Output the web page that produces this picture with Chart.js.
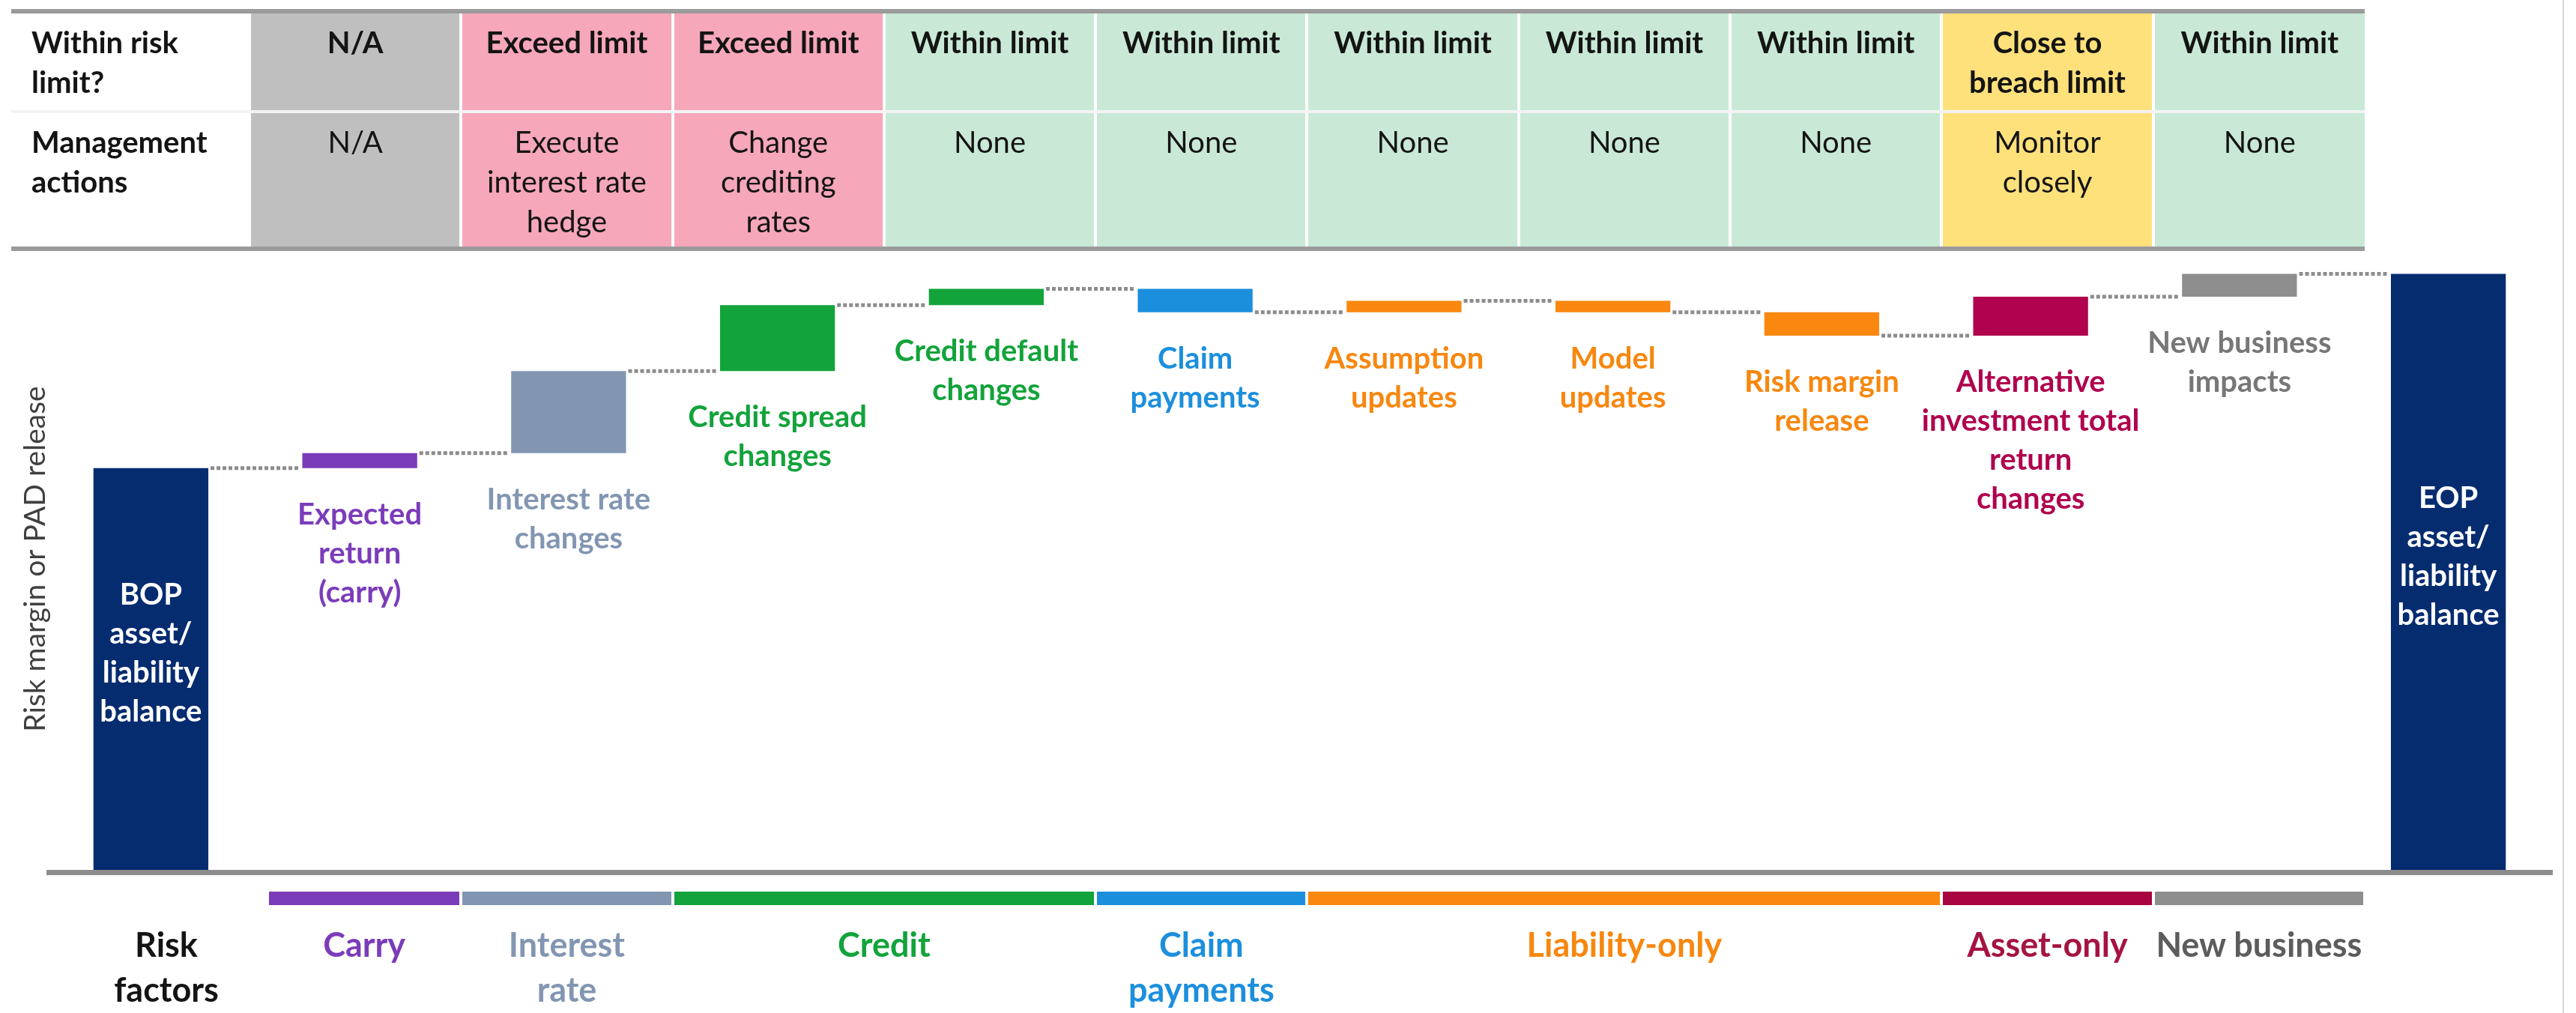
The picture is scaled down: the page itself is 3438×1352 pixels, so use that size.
<!DOCTYPE html>
<html>
<head>
<meta charset="utf-8">
<script src="https://cdn.jsdelivr.net/npm/chart.js@4.4.1/dist/chart.umd.min.js"></script>
<style>
body { margin:0; background:#fff; }
#wrap { position:relative; width:3438px; height:1352px; overflow:hidden; }
#edge { position:absolute; left:3420px; top:0; width:2px; height:1352px; background:#d6d6d6; }
#mycanvas { position:absolute; left:0; top:0; }
table.grid { position:absolute; left:15px; width:3141px; border-collapse:collapse; table-layout:fixed;
	font-family:Lato, "Open Sans", sans-serif; color:#141414; }
#limits { top:12px; font-size:40px; line-height:53px; }
#limits td { vertical-align:top; text-align:center; padding:12px 2px 0 2px; border-left:4px solid #fff; white-space:pre-line; }
#limits tr.r1 td { height:117px; border-top:6px solid #9b9b9b; border-bottom:4px solid #f3f3f3; font-weight:700; }
#limits tr.r2 td { height:166px; border-bottom:6px solid #9b9b9b; }
#limits td.head { text-align:left; padding-left:27px; font-weight:700; background:#fff; border-left:none; }
#factors { top:1190px; font-size:45px; line-height:60px; font-weight:700; }
#factors td { vertical-align:top; text-align:center; padding:0 2px; white-space:pre; }
#factors td.head { padding-left:98px; padding-top:40px; }
#factors td.first { padding-left:26px; }
#factors .bar { height:18px; margin-bottom:22px; }
</style>
</head>
<body>
<div id="wrap">
<canvas id="mycanvas" width="3438" height="1352"></canvas>
<table id="limits" class="grid"><colgroup><col style="width:318px"></colgroup><tbody></tbody></table>
<table id="factors" class="grid"><colgroup><col style="width:318px"></colgroup><tbody></tbody></table>
<div id="edge"></div>
</div>
<script>
// table on top
var rowHeads = ['Within risk\nlimit?', 'Management\nactions'];
var limitStatus = ['N/A', 'Exceed limit', 'Exceed limit', 'Within limit', 'Within limit', 'Within limit',
	'Within limit', 'Within limit', 'Close to\nbreach limit', 'Within limit'];
var actions = ['N/A', 'Execute\ninterest rate\nhedge', 'Change\ncrediting\nrates', 'None', 'None', 'None',
	'None', 'None', 'Monitor\nclosely', 'None'];
var statusColors = {'N/A': '#bfbfbf', 'Exceed limit': '#f6a7b9', 'Within limit': '#c9e9d6', 'Close to\nbreach limit': '#ffe17c'};

// waterfall
var categories = ['BOP asset/liability balance', 'Expected return (carry)', 'Interest rate changes',
	'Credit spread changes', 'Credit default changes', 'Claim payments', 'Assumption updates',
	'Model updates', 'Risk margin release', 'Alternative investment total return changes',
	'New business impacts', 'EOP asset/liability balance'];
// running balance after each step (BOP first, last = EOP)
var runningBalance = [67.4, 69.9, 83.6, 94.6, 97.3, 93.4, 95.3, 93.4, 89.5, 96.0, 99.8];
var labelLines = [['BOP', 'asset/', 'liability', 'balance'], ['Expected', 'return', '(carry)'],
	['Interest rate', 'changes'], ['Credit spread', 'changes'], ['Credit default', 'changes'],
	['Claim', 'payments'], ['Assumption', 'updates'], ['Model', 'updates'], ['Risk margin', 'release'],
	['Alternative', 'investment total', 'return', 'changes'], ['New business', 'impacts'],
	['EOP', 'asset/', 'liability', 'balance']];
var barColors = ['#062c70', '#7a3cb8', '#8296b2', '#12a43b', '#12a43b', '#1c8fdc', '#fa870f',
	'#fa870f', '#fa870f', '#b0024e', '#8e8e8e', '#062c70'];
var textColors = ['#ffffff', '#7b3cba', '#8296b2', '#13a33b', '#13a33b', '#1c8fdc', '#f7870f',
	'#f7870f', '#f7870f', '#b0024e', '#777777', '#ffffff'];

// risk factor groups, spans counted in table columns
var factorNames = ['Carry', 'Interest\nrate', 'Credit', 'Claim\npayments', 'Liability-only', 'Asset-only', 'New business'];
var factorSpan = [1, 1, 2, 1, 3, 1, 1];
var factorColors = ['#7a3cb8', '#8296b2', '#12a43b', '#1c8fdc', '#fa870f', '#a8043f', '#8e8e8e'];
var factorTextColors = ['#7b3cba', '#8296b2', '#13a33b', '#1c8fdc', '#f7870f', '#a51440', '#5c5c5c'];

function addCols(sel) {
	var cols = document.querySelector(sel + ' colgroup');
	for (var c = 0; c < limitStatus.length; c++) cols.appendChild(document.createElement('col'));
}
addCols('#limits');
addCols('#factors');

var tbody = document.querySelector('#limits tbody');
[limitStatus, actions].forEach(function(row, r) {
	var tr = document.createElement('tr');
	tr.className = r == 0 ? 'r1' : 'r2';
	var th = document.createElement('td');
	th.className = 'head';
	th.textContent = rowHeads[r];
	tr.appendChild(th);
	for (var i = 0; i < row.length; i++) {
		var td = document.createElement('td');
		td.textContent = row[i];
		td.style.background = statusColors[limitStatus[i]];
		tr.appendChild(td);
	}
	tbody.appendChild(tr);
});

var ftr = document.createElement('tr');
var fh = document.createElement('td');
fh.className = 'head';
fh.textContent = 'Risk\nfactors';
ftr.appendChild(fh);
for (var g = 0; g < factorNames.length; g++) {
	var td = document.createElement('td');
	td.colSpan = factorSpan[g];
	if (g == 0) td.className = 'first';
	var bar = document.createElement('div');
	bar.className = 'bar';
	bar.style.background = factorColors[g];
	var txt = document.createElement('div');
	txt.textContent = factorNames[g];
	txt.style.color = factorTextColors[g];
	td.appendChild(bar);
	td.appendChild(txt);
	ftr.appendChild(td);
}
document.querySelector('#factors tbody').appendChild(ftr);

var bars = [];
for (var i = 0; i < categories.length; i++) {
	if (i == 0) bars.push([0, runningBalance[0]]);
	else if (i == categories.length - 1) bars.push([0, runningBalance[runningBalance.length - 1]]);
	else bars.push([runningBalance[i - 1], runningBalance[i]]);
}

var extras = {
	id: 'extras',
	afterDatasetsDraw: function(chart) {
		var ctx = chart.ctx, area = chart.chartArea;
		var y = chart.scales.y;
		var meta = chart.getDatasetMeta(0).data;
		ctx.save();

		// baseline
		ctx.fillStyle = '#8c8c8c';
		ctx.fillRect(area.left, area.bottom - 3, area.right - area.left, 7);

		// dotted connectors
		ctx.strokeStyle = '#8c8c8c';
		ctx.lineWidth = 5;
		ctx.setLineDash([5, 3]);
		for (var i = 0; i < runningBalance.length; i++) {
			var yy = y.getPixelForValue(runningBalance[i]);
			ctx.beginPath();
			ctx.moveTo(meta[i].x + meta[i].width / 2 + 3, yy);
			ctx.lineTo(meta[i + 1].x - meta[i + 1].width / 2 - 3, yy);
			ctx.stroke();
		}
		ctx.setLineDash([]);

		// step labels
		ctx.textAlign = 'center';
		ctx.textBaseline = 'middle';
		ctx.font = 'bold 40px Lato';
		for (var i = 0; i < labelLines.length; i++) {
			var lines = labelLines[i];
			var top;
			if (i == 0 || i == labelLines.length - 1) {
				var mid = (y.getPixelForValue(bars[i][1]) + area.bottom) / 2 - 22;
				top = mid - (lines.length - 1) * 52 / 2;
			} else {
				top = y.getPixelForValue(Math.min(bars[i][0], bars[i][1])) + 62;
			}
			ctx.fillStyle = textColors[i];
			for (var k = 0; k < lines.length; k++) {
				ctx.fillText(lines[k], meta[i].x, top + k * 52);
			}
		}

		// axis title
		ctx.translate(47, 746);
		ctx.rotate(-Math.PI / 2);
		ctx.font = '39px Lato';
		ctx.fillStyle = '#404040';
		ctx.fillText('Risk margin or PAD release', 0, 0);
		ctx.restore();
	}
};

var chart = new Chart(document.getElementById('mycanvas'), {
	type: 'bar',
	data: {
		labels: categories,
		datasets: [{
			data: bars,
			backgroundColor: barColors,
			borderWidth: 0,
			barPercentage: 0.55,
			categoryPercentage: 1
		}]
	},
	options: {
		responsive: false,
		animation: false,
		devicePixelRatio: 1,
		layout: { padding: { left: 62, right: 31, top: 364, bottom: 188 } },
		plugins: { legend: { display: false }, tooltip: { enabled: false } },
		scales: {
			x: { display: false },
			y: { display: false, min: 0, max: 100 }
		}
	},
	plugins: [extras]
});
</script>
</body>
</html>
